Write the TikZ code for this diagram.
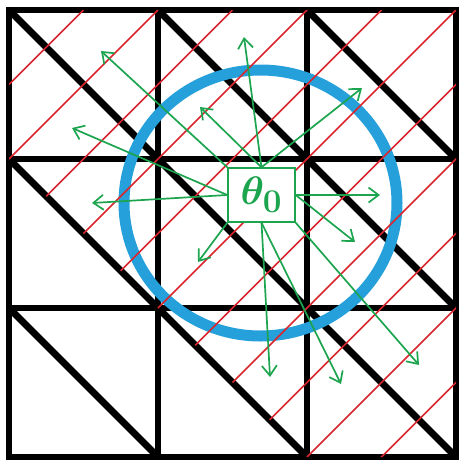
\documentclass[tikz,border=0pt]{standalone}
\usepackage{amsmath,amssymb,bm}
\usepackage{graphicx}
\usepackage{xcolor}
\definecolor{hatchred}{RGB}{218,37,45}
\definecolor{ringblue}{RGB}{38,160,218}
\definecolor{paramgreen}{RGB}{28,164,78}
\usepackage{tikz}
\usetikzlibrary{arrows.meta}

\begin{document}
\begin{tikzpicture}[x=1pt, y=-1pt,
  gridline/.style={line width=6.8pt, black},
  hatch/.style={line width=1.6pt, hatchred},
  ring/.style={line width=11pt, ringblue},
  parambox/.style={rectangle, draw=paramgreen, fill=white, line width=1.4pt, minimum width=67pt, minimum height=54pt, inner sep=0pt, text=paramgreen, font=\Huge},
  arr/.style={-{Straight Barb[length=10pt, width=15pt]}, line width=1.7pt, paramgreen}
]
\useasboundingbox (0,0) rectangle (459,461);

% 3x3 cells, every cell cut by its diagonal
\begin{scope}[shift={(9,10)}, x=149pt, y=-149pt]
\foreach \k in {0,...,3} {
  \draw[gridline, line cap=rect] (\k,0) -- (\k,3);
  \draw[gridline, line cap=rect] (0,\k) -- (3,\k);
}
\draw[gridline] (0,0) -- (3,3) (1,0) -- (3,2) (2,0) -- (3,1) (0,1) -- (2,3) (0,2) -- (1,3);
\end{scope}

% region of the parameter
\coordinate (ctr) at (260.5,203);
\draw[ring] (ctr) ellipse [x radius=136.5, y radius=133];

% hatching above the second diagonal
\begin{scope}[shift={(9,10)}, x=149pt, y=-149pt]
\clip (0,0) -- (3,0) -- (3,3) -- (2,3) -- (0,1) -- cycle;
\foreach \h in {1,...,11} {
  \draw[hatch] (0.5*\h,0) -- (0,0.5*\h);
}
\end{scope}

\node[parambox] (theta) at (261.5,195) {\scalebox{1.6}{$\bm{\theta_0}$}};

\coordinate (p1) at (244,37);
\coordinate (p2) at (200,107);
\coordinate (p3) at (362,88);
\coordinate (p4) at (101,51);
\coordinate (p5) at (72,128);
\coordinate (p6) at (92,203);
\coordinate (p7) at (380,195);
\coordinate (p8) at (355,242);
\coordinate (p9) at (419,365);
\coordinate (p10) at (270,377);
\coordinate (p11) at (341,384);
\coordinate (p12) at (198,262);

\draw[arr] (theta.north) -- (p1);
\draw[arr] (theta.north) -- (p2);
\draw[arr] (theta.north) -- (p3);
\draw[arr] (theta.north west) -- (p4);
\draw[arr] (theta.west) -- (p5);
\draw[arr] (theta.west) -- (p6);
\draw[arr] (theta.east) -- (p7);
\draw[arr] (theta.east) -- (p8);
\draw[arr] (theta.south east) -- (p9);
\draw[arr] (theta.south) -- (p10);
\draw[arr] (theta.south) -- (p11);
\draw[arr] (theta.south west) -- (p12);
\end{tikzpicture}
\end{document}
